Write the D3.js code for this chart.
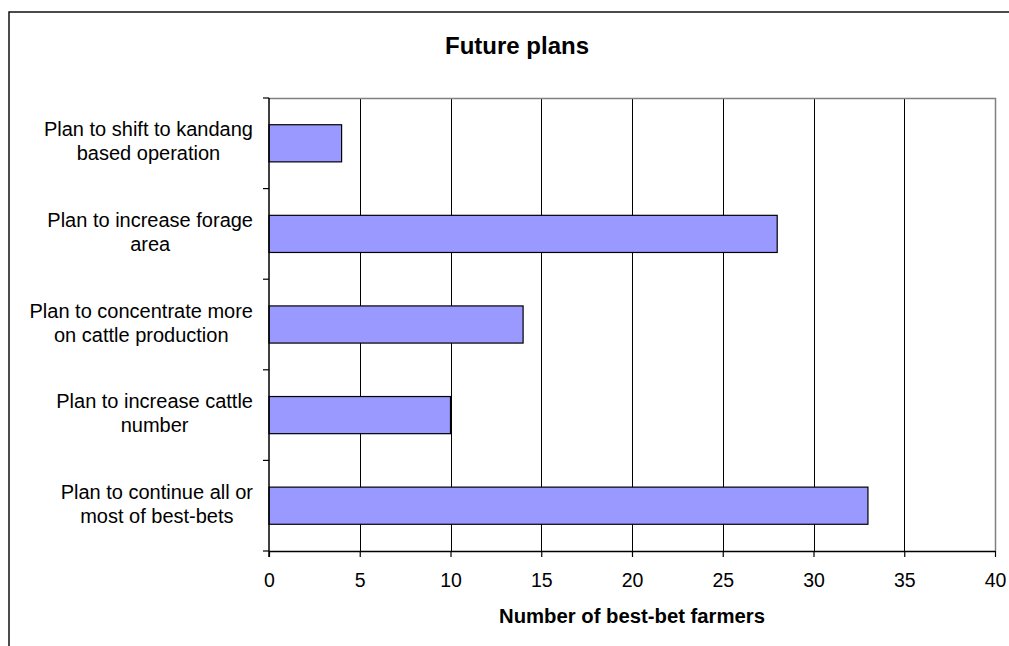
<!DOCTYPE html>
<html>
<head>
<meta charset="utf-8">
<script src="https://cdn.jsdelivr.net/npm/d3@7/dist/d3.min.js"></script>
<style>
  html, body { margin: 0; padding: 0; background: #fff; }
  svg { display: block; font-family: "Liberation Sans", Arial, sans-serif; }
</style>
</head>
<body>
<svg id="chart" width="1009" height="646"></svg>
<script>
// Future plans of best-bet farmers
const categories = [
  ["Plan to shift to kandang", "based operation"],
  ["Plan to increase forage", "area"],
  ["Plan to concentrate more", "on cattle production"],
  ["Plan to increase cattle", "number"],
  ["Plan to continue all or", "most of best-bets"]
];
const values = [4, 28, 14, 10, 33];
const xTicks = [0, 5, 10, 15, 20, 25, 30, 35, 40];
const titleText = "Future plans";
const xTitleText = "Number of best-bet farmers";

const svg = d3.select("#chart");
const plot = { left: 269, top: 98, right: 995, bottom: 551 };

// outer chart frame (extends past the window on right and bottom)
svg.append("rect")
  .attr("x", 9).attr("y", 12)
  .attr("width", 1100).attr("height", 700)
  .attr("fill", "none").attr("stroke", "#000").attr("stroke-width", 1.4);

const x = d3.scaleLinear().domain([0, 40]).range([plot.left, plot.right]);
const y = d3.scaleBand()
  .domain(d3.range(categories.length))
  .range([plot.top, plot.bottom])
  .paddingInner(0.59).paddingOuter(0.295);
const yEdges = d3.scaleLinear().domain([0, categories.length]).range([plot.top, plot.bottom]);

// vertical gridlines
svg.append("g").selectAll("line")
  .data(xTicks.filter(d => d > 0 && d < 40))
  .join("line")
  .attr("x1", d => Math.round(x(d)) + 0.5).attr("x2", d => Math.round(x(d)) + 0.5)
  .attr("y1", plot.top).attr("y2", plot.bottom)
  .attr("stroke", "#000").attr("stroke-width", 1);

// plot area border (top and right)
svg.append("path")
  .attr("d", `M${plot.left},${plot.top + 0.5}H${plot.right + 0.5}V${plot.bottom}`)
  .attr("fill", "none").attr("stroke", "#808080").attr("stroke-width", 1.5);

// bars
svg.append("g").selectAll("rect")
  .data(values)
  .join("rect")
  .attr("x", x(0))
  .attr("y", (d, i) => y(i))
  .attr("width", d => x(d) - x(0))
  .attr("height", y.bandwidth())
  .attr("fill", "#9999ff")
  .attr("stroke", "#000").attr("stroke-width", 1.2);

// x axis
const xAxis = d3.axisBottom(x).tickValues(xTicks).tickSize(6).tickSizeOuter(0).tickPadding(16);
const gx = svg.append("g")
  .attr("transform", `translate(0,${plot.bottom})`)
  .call(xAxis);
gx.select(".domain").attr("stroke", "#000").attr("stroke-width", 1.3);
gx.selectAll(".tick line").attr("stroke", "#000").attr("stroke-width", 1.2);
gx.selectAll(".tick text")
  .attr("font-size", 19.5).attr("fill", "#000")
  .attr("font-family", "Liberation Sans, Arial, sans-serif");

// y axis line with ticks at category boundaries
const gy = svg.append("g");
gy.append("line")
  .attr("x1", plot.left).attr("x2", plot.left)
  .attr("y1", plot.top).attr("y2", plot.bottom + 6)
  .attr("stroke", "#000").attr("stroke-width", 1.5);
gy.selectAll("line.tk")
  .data(d3.range(categories.length + 1))
  .join("line").attr("class", "tk")
  .attr("x1", plot.left - 6).attr("x2", plot.left)
  .attr("y1", d => yEdges(d)).attr("y2", d => yEdges(d))
  .attr("stroke", "#000").attr("stroke-width", 1.2);

// category labels: block right-aligned, lines centred within block
const labelRight = 253;
const lineH = 24;
categories.forEach((lines, i) => {
  const cy = y(i) + y.bandwidth() / 2;
  const g = svg.append("g");
  const texts = lines.map((t, k) => g.append("text")
    .attr("font-size", 20).attr("fill", "#000")
    .attr("text-anchor", "middle")
    .attr("y", cy + (k - (lines.length - 1) / 2) * lineH + 5)
    .text(t));
  const w = d3.max(texts, t => t.node().getComputedTextLength());
  texts.forEach(t => t.attr("x", labelRight - w / 2));
});

// titles
svg.append("text")
  .attr("x", (plot.left + plot.right) / 2 - 115).attr("y", 54)
  .attr("text-anchor", "middle")
  .attr("font-size", 24).attr("font-weight", "bold")
  .text(titleText);

svg.append("text")
  .attr("x", 632).attr("y", 623)
  .attr("text-anchor", "middle")
  .attr("font-size", 20.3).attr("font-weight", "bold")
  .text(xTitleText);
</script>
</body>
</html>
